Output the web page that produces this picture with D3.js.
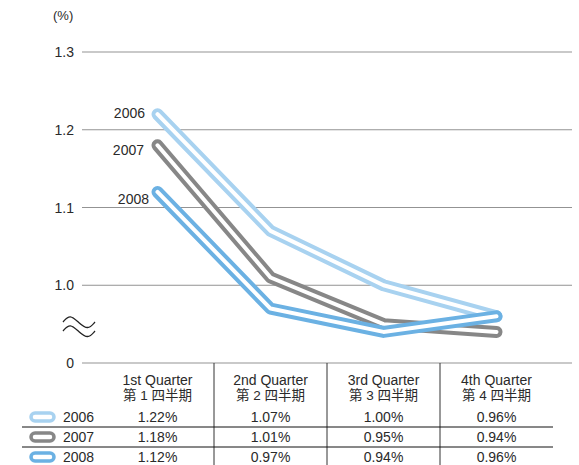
<!DOCTYPE html>
<html>
<head>
<meta charset="utf-8">
<script src="https://cdn.jsdelivr.net/npm/d3@7"></script>
<style>
  body { margin: 0; background: #fff; }
  text { font-family: "Liberation Sans", Arial, "Noto Sans CJK JP", sans-serif; fill: #2a2a2a; }
</style>
</head>
<body>
<script>
// data
const quarters = ["1st Quarter", "2nd Quarter", "3rd Quarter", "4th Quarter"];
const quartersJa = ["第 1 四半期", "第 2 四半期", "第 3 四半期", "第 4 四半期"];
const years = ["2006", "2007", "2008"];
const v2006 = [1.22, 1.07, 1.00, 0.96];
const v2007 = [1.18, 1.01, 0.95, 0.94];
const v2008 = [1.12, 0.97, 0.94, 0.96];
const yTicks = [1.0, 1.1, 1.2, 1.3];
const colors = ["#a8d2f0", "#878787", "#6bb1e3"];

const W = 579, H = 465;
const series = [v2006, v2007, v2008];

const svg = d3.select("body").append("svg")
  .attr("width", W).attr("height", H);

// scales (axis is broken below 1.0, bottom line is labelled 0)
const x = d3.scaleBand().domain(quarters).range([101, 553]);
const y = d3.scaleLinear().domain([0.9, 1.3]).range([363, 52]);
const cx = q => x(q) + x.bandwidth() / 2;

// grid lines
svg.append("g").selectAll("line")
  .data(yTicks.concat([0.9]))
  .enter().append("line")
  .attr("x1", 82).attr("x2", 572)
  .attr("y1", d => y(d)).attr("y2", d => y(d))
  .attr("stroke", "#939393").attr("stroke-width", 1);

svg.append("g").selectAll("text")
  .data(yTicks)
  .enter().append("text")
  .attr("x", 74).attr("y", d => y(d) + 5)
  .attr("text-anchor", "end").attr("font-size", 14)
  .text(d => d.toFixed(1));

svg.append("text").attr("x", 74).attr("y", y(0.9) + 5)
  .attr("text-anchor", "end").attr("font-size", 14).text("0");

svg.append("text").attr("x", 53).attr("y", 20)
  .attr("font-size", 13).text("(%)");

// break mark: two thin waves
const wave = d3.line().curve(d3.curveBasis);
[0, 9].forEach(dy => {
  svg.append("path")
    .attr("d", wave([[63, 322 + dy], [70, 314 + dy], [79, 323 + dy], [88, 330 + dy], [95, 322 + dy]]))
    .attr("fill", "none").attr("stroke", "#222").attr("stroke-width", 1.3);
});

// lines: thick coloured stroke with a white core
const line = d3.line()
  .x((d, i) => cx(quarters[i]))
  .y(d => y(d));
const labelDx = [-12.5, -13.5, -8.5];
const labelDy = [4, 10, 12];

series.forEach((vals, i) => {
  const g = svg.append("g");
  g.append("path").attr("d", line(vals))
    .attr("fill", "none").attr("stroke", colors[i])
    .attr("stroke-width", 12)
    .attr("stroke-linecap", "round").attr("stroke-linejoin", "round");
  g.append("path").attr("d", line(vals))
    .attr("fill", "none").attr("stroke", "#fff")
    .attr("stroke-width", 4)
    .attr("stroke-linecap", "round").attr("stroke-linejoin", "round");
  g.append("text")
    .attr("x", cx(quarters[0]) + labelDx[i])
    .attr("y", y(vals[0]) + labelDy[i])
    .attr("text-anchor", "end").attr("font-size", 14)
    .text(years[i]);
});

// table
const table = svg.append("g");
const rowY = [417, 437, 457];

table.selectAll(".vline")
  .data(quarters.slice(1))
  .enter().append("line")
  .attr("x1", d => x(d)).attr("x2", d => x(d))
  .attr("y1", y(0.9)).attr("y2", H)
  .attr("stroke", "#333").attr("stroke-width", 1);

table.selectAll(".hline")
  .data([427, 447])
  .enter().append("line")
  .attr("x1", 22).attr("x2", 553)
  .attr("y1", d => d).attr("y2", d => d)
  .attr("stroke", "#111").attr("stroke-width", 1);

quarters.forEach((q, j) => {
  table.append("text").attr("x", cx(q)).attr("y", 385)
    .attr("text-anchor", "middle").attr("font-size", 14).text(q);
  table.append("text").attr("x", cx(q)).attr("y", 400)
    .attr("text-anchor", "middle").attr("font-size", 13.5).text(quartersJa[j]);
});

series.forEach((vals, i) => {
  table.append("rect")
    .attr("x", 31).attr("y", rowY[i] - 4)
    .attr("width", 23).attr("height", 8)
    .attr("rx", 4).attr("ry", 4)
    .attr("fill", "#fff").attr("stroke", colors[i]).attr("stroke-width", 3.5);
  table.append("text").attr("x", 63).attr("y", rowY[i] + 5)
    .attr("font-size", 14).text(years[i]);
  vals.forEach((v, j) => {
    table.append("text").attr("x", cx(quarters[j])).attr("y", rowY[i] + 5)
      .attr("text-anchor", "middle").attr("font-size", 14)
      .text(v.toFixed(2) + "%");
  });
});
</script>
</body>
</html>
